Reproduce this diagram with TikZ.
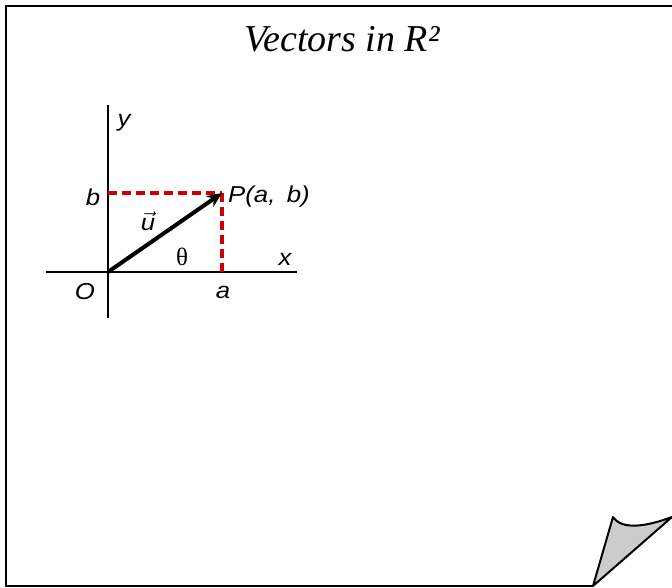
\documentclass[tikz,border=0pt]{standalone}
\usepackage{fontspec}
\setmainfont{Liberation Serif}
\newfontfamily\lblfont{Liberation Sans}
\usetikzlibrary{arrows.meta}
\definecolor{dashred}{RGB}{204,0,0}
\definecolor{curlgray}{RGB}{204,204,204}
\tikzset{
  axis/.style={line width=1.6pt, black},
  guide/.style={line width=3.2pt, dashred, dash pattern=on 9pt off 5pt},
  vec/.style={line width=4pt, black, -{Stealth[length=15pt,width=13pt]}},
  lbl/.style={font=\lblfont\itshape\fontsize{23}{23}\selectfont, inner sep=0pt, xscale=1.12},
  frame/.style={line width=2.4pt, black},
  curl/.style={line width=2pt, black, fill=curlgray, line join=round}
}
\begin{document}
\begin{tikzpicture}[x=1pt,y=-1pt]
\useasboundingbox (0,0) rectangle (672,588);
% page frame
\coordinate (TL) at (6,6);
\coordinate (TR) at (680,6);
\coordinate (BL) at (6,586);
\coordinate (BR) at (593,586);
\draw[frame] (TR) -- (TL) -- (BL) -- (BR);
% page curl
\coordinate (C1) at (593,586);
\coordinate (C2) at (613,517);
\coordinate (C3) at (672,517);
\draw[curl] (C1) -- (C2) .. controls (622,530) and (645,527) .. (C3) -- cycle;
% title
\node[font=\itshape\fontsize{38}{38}\selectfont, anchor=base, inner sep=0pt] (title) at (342,52) {Vectors in R²};
% axes
\coordinate (O) at (108,272);
\coordinate (P) at (222,193);
\coordinate (B) at (108,193);
\coordinate (A) at (222,272);
\coordinate (Ytop) at (108,105);
\coordinate (Ybot) at (108,318);
\coordinate (Xl) at (46,272);
\coordinate (Xr) at (297,272);
\draw[axis] (Ytop) -- (Ybot);
\draw[axis] (Xl) -- (Xr);
\draw[guide] (B) -- (P);
\draw[guide] (P) -- (A);
\draw[vec] (O) -- (P);
% labels
\node[lbl] (ly) at (124,123) {y};
\node[lbl] (lb) at (93,197) {b};
\node[lbl, anchor=west] (lP) at (228,197) {P(a,\, b)};
\node[lbl] (lu) at (148,221) {$\vec{\hbox{\lblfont\itshape u}}$};
\node[font=\fontsize{25}{25}\selectfont, inner sep=0pt] (lt) at (182,257) {θ};
\node[lbl] (lx) at (285,259) {x};
\node[lbl] (lO) at (85,292) {O};
\node[lbl] (la) at (223,292) {a};
\end{tikzpicture}
\end{document}
